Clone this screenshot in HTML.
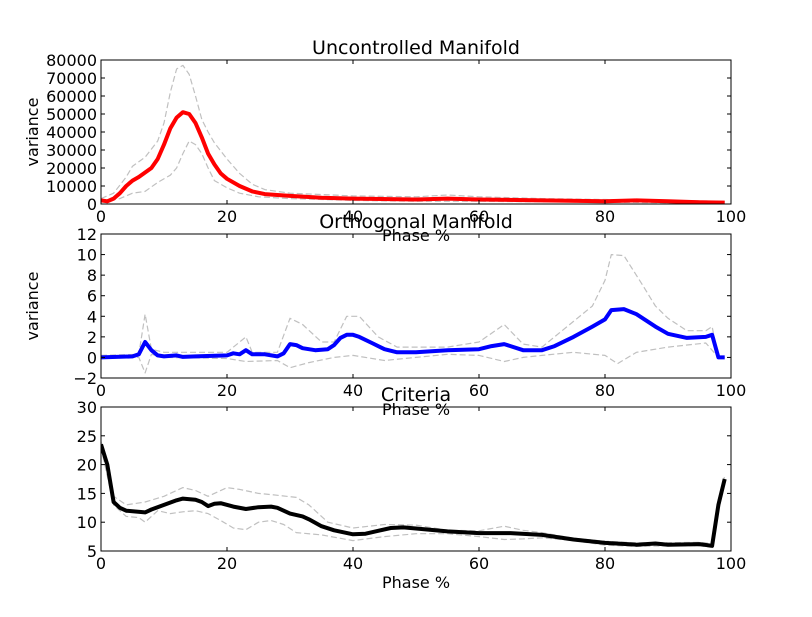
<!DOCTYPE html>
<html><head><meta charset="utf-8"><style>
body{margin:0;background:#fff}
svg text{font-family:"DejaVu Sans","Liberation Sans",sans-serif;fill:#000}
</style></head><body>
<svg id="fig" width="812" height="612" viewBox="0 0 812 612">
<rect width="812" height="612" fill="#fff"/>
</svg>
<script>
// Panel 1 data: Uncontrolled Manifold
const ucmMeanX=[0,1,2,3,4,5,6,7,8,9,10,11,12,13,14,15,16,17,18,19,20,22,24,26,28,30,35,40,50,55,60,70,80,85,90,95,99];
const ucmMeanY=[2000,1500,3000,6000,10000,13000,15000,17500,20000,25000,33000,42000,48000,51000,50000,45000,37000,28000,22000,17000,14000,10000,7000,5500,5000,4500,3500,3000,2500,3000,2500,2000,1500,2000,1500,1000,800];
const ucmUpX=[0,2,4,5,7,9,10,11,12,13,14,15,16,17,18,20,22,24,26,30,40,50,55,60,70,80,90,99];
const ucmUpY=[3000,6000,15000,21000,26000,35000,45000,62000,75000,77000,72000,60000,47000,40000,34000,25000,17000,11000,8000,6000,4500,4000,5000,4000,3000,2500,2000,1500];
const ucmLoX=[0,3,5,7,9,11,12,13,14,15,16,17,18,20,22,25,30,40,50,60,80,99];
const ucmLoY=[1000,3000,6000,7000,12000,16000,20000,28000,35000,33000,28000,20000,13000,9000,6000,4000,3000,2000,1500,1500,1000,500];
const ucmTicks=[0,10000,20000,30000,40000,50000,60000,70000,80000];
// Panel 2 data: Orthogonal Manifold
const ortMeanX=[0,5,6,7,8,9,10,12,13,15,20,21,22,23,24,26,28,29,30,31,32,34,36,37,38,39,40,41,43,45,47,50,55,60,62,64,65,67,70,72,75,78,80,81,83,85,88,90,93,96,97,98,99];
const ortMeanY=[0,0.1,0.3,1.5,0.7,0.2,0.1,0.2,0.05,0.1,0.2,0.4,0.3,0.7,0.3,0.3,0.1,0.4,1.3,1.2,0.9,0.7,0.8,1.2,1.9,2.2,2.2,2.0,1.4,0.8,0.5,0.5,0.7,0.8,1.1,1.3,1.1,0.7,0.7,1.1,2.0,3.0,3.7,4.6,4.7,4.2,3.0,2.3,1.9,2.0,2.2,0,0];
const ortUpX=[0,6,7,8,10,20,23,24,28,30,32,35,37,39,41,44,47,55,60,64,67,70,75,78,80,81,83,86,88,90,93,96,97,98,99];
const ortUpY=[0.2,0.3,4.2,0.8,0.5,0.5,2.0,0.5,0.5,3.8,3.2,1.5,1.5,4.0,4.0,2.0,1.0,1.0,1.5,3.2,1.3,1.0,3.5,5.0,7.5,10.0,9.9,7.0,5.0,3.8,2.6,2.6,3.0,0,0];
const ortLoX=[0,6,7,8,10,20,23,28,30,33,37,40,45,50,55,60,64,67,70,75,80,82,85,90,96,98,99];
const ortLoY=[-0.1,0,-1.5,0.3,0,-0.1,-0.4,-0.3,-1.0,-0.5,0,0.2,-0.3,0,0.3,0.2,-0.4,0,0.2,0.5,0.2,-0.6,0.5,1.0,1.4,0,0];
const ortTicks=[-2,0,2,4,6,8,10,12];
// Panel 3 data: Criteria
const crMeanX=[0,1,2,3,4,7,8,10,12,13,15,16,17,18,19,21,23,25,27,28,30,32,33,35,37,40,42,44,46,48,50,55,60,65,70,75,80,85,88,90,95,97,98,99];
const crMeanY=[23.5,20,13.5,12.5,12,11.7,12.2,13,13.8,14.1,13.9,13.5,12.8,13.2,13.3,12.7,12.3,12.6,12.7,12.5,11.5,11,10.5,9.3,8.6,7.9,8.0,8.5,9.0,9.1,8.9,8.4,8.1,8.1,7.8,7.0,6.4,6.1,6.3,6.1,6.2,5.9,13,17.5];
const crUpX=[0,2,4,7,10,13,15,17,20,22,25,27,31,33,36,40,45,50,55,60,64,67,70,75,80,85,95,97,98,99];
const crUpY=[24,14.5,13,13.5,14.5,16,15.5,14.5,16,15.7,15,14.8,14.3,13,10,9,9.6,9.5,8.6,8.5,9.3,8.6,8.2,7.2,6.7,6.4,6.5,6.3,14,18];
const crLoX=[0,2,4,6,7,9,11,13,15,17,19,21,23,25,27,29,31,35,40,45,50,55,60,64,67,70,75,80,85,90,95,97,98,99];
const crLoY=[23,13,11,10.8,10,12,11.5,11.8,12,11.5,10.3,9,8.7,10,10.3,9.6,8.2,7.8,6.8,7.5,8.0,8.0,7.5,7.0,7.1,7.3,6.8,6.0,5.8,5.9,5.9,5.6,12,17];
const crTicks=[5,10,15,20,25,30];
const xTicks=[0,20,40,60,80,100];

const NS="http://www.w3.org/2000/svg";
const svg=document.getElementById('fig');
function mk(tag,attrs,parent){const e=document.createElementNS(NS,tag);for(const k in attrs)e.setAttribute(k,attrs[k]);(parent||svg).appendChild(e);return e;}
const L=101,R=731;
function panel(name,top,bot,ymin,ymax,yticks,series,title,ylabel){
  const g=mk('g',{});
  
  
  const sx=v=>L+(v/100)*(R-L);
  const sy=v=>bot-(v-ymin)/(ymax-ymin)*(bot-top);
  const clipId='clip-'+name;
  const cp=mk('clipPath',{id:clipId},g);mk('rect',{x:L,y:top,width:R-L,height:bot-top},cp);
  const plot=mk('g',{'clip-path':'url(#'+clipId+')'},g);
  series.forEach(s=>{
    const d=s.x.map((x,i)=>(i?'L':'M')+sx(x).toFixed(1)+','+sy(s.y[i]).toFixed(1)).join(' ');
    const p=mk('path',{d:d,fill:'none',stroke:s.c,'stroke-width':s.w,'stroke-dasharray':s.dash||'none','stroke-linejoin':'round'},plot);
    
    
  });
  const frame=mk('rect',{x:L,y:top,width:R-L,height:bot-top,fill:'none',stroke:'#000','stroke-width':1},g);
  
  
  xTicks.forEach(t=>{
    const x=sx(t);
    mk('line',{x1:x,x2:x,y1:bot,y2:bot-4,stroke:'#000'},g);
    mk('line',{x1:x,x2:x,y1:top,y2:top+4,stroke:'#000'},g);
    const tx=mk('text',{x:x,y:bot+18,'text-anchor':'middle','font-size':16},g);
    tx.textContent=t;
    
    
  });
  yticks.forEach(t=>{
    const y=sy(t);
    mk('line',{x1:L,x2:L+4,y1:y,y2:y,stroke:'#000'},g);
    mk('line',{x1:R,x2:R-4,y1:y,y2:y,stroke:'#000'},g);
    const tx=mk('text',{x:L-4,y:y+6,'text-anchor':'end','font-size':16},g);
    tx.textContent=t.toString().replace('-','\u2212');
    
    
  });
  const xl=mk('text',{x:(L+R)/2,y:bot+37,'text-anchor':'middle','font-size':16},g);
  xl.textContent='Phase %';
  
  
  if(ylabel){
    const cy=(top+bot)/2;
    const yl=mk('text',{x:38,y:cy,'text-anchor':'middle','font-size':16,transform:'rotate(-90 38 '+cy+')'},g);
    yl.textContent=ylabel;
    
    
  }
  const tt=mk('text',{x:(L+R)/2,y:top-6,'text-anchor':'middle','font-size':19},g);
  tt.textContent=title;
  
  
}
const gray='#c0c0c0';
panel('uncontrolled',60,204,0,80000,ucmTicks,[
 {x:ucmUpX,y:ucmUpY,c:gray,w:1.2,dash:'6,3',n:'upper-bound-line'},
 {x:ucmLoX,y:ucmLoY,c:gray,w:1.2,dash:'6,3',n:'lower-bound-line'},
 {x:ucmMeanX,y:ucmMeanY,c:'#ff0000',w:4,n:'mean-line'}],'Uncontrolled Manifold','variance');
panel('orthogonal',234,378,-2,12,ortTicks,[
 {x:ortUpX,y:ortUpY,c:gray,w:1.2,dash:'6,3',n:'upper-bound-line'},
 {x:ortLoX,y:ortLoY,c:gray,w:1.2,dash:'6,3',n:'lower-bound-line'},
 {x:ortMeanX,y:ortMeanY,c:'#0000ff',w:4,n:'mean-line'}],'Orthogonal Manifold','variance');
panel('criteria',407,551,5,30,crTicks,[
 {x:crUpX,y:crUpY,c:gray,w:1.2,dash:'6,3',n:'upper-bound-line'},
 {x:crLoX,y:crLoY,c:gray,w:1.2,dash:'6,3',n:'lower-bound-line'},
 {x:crMeanX,y:crMeanY,c:'#000000',w:4,n:'mean-line'}],'Criteria',null);
</script>
</body></html>
